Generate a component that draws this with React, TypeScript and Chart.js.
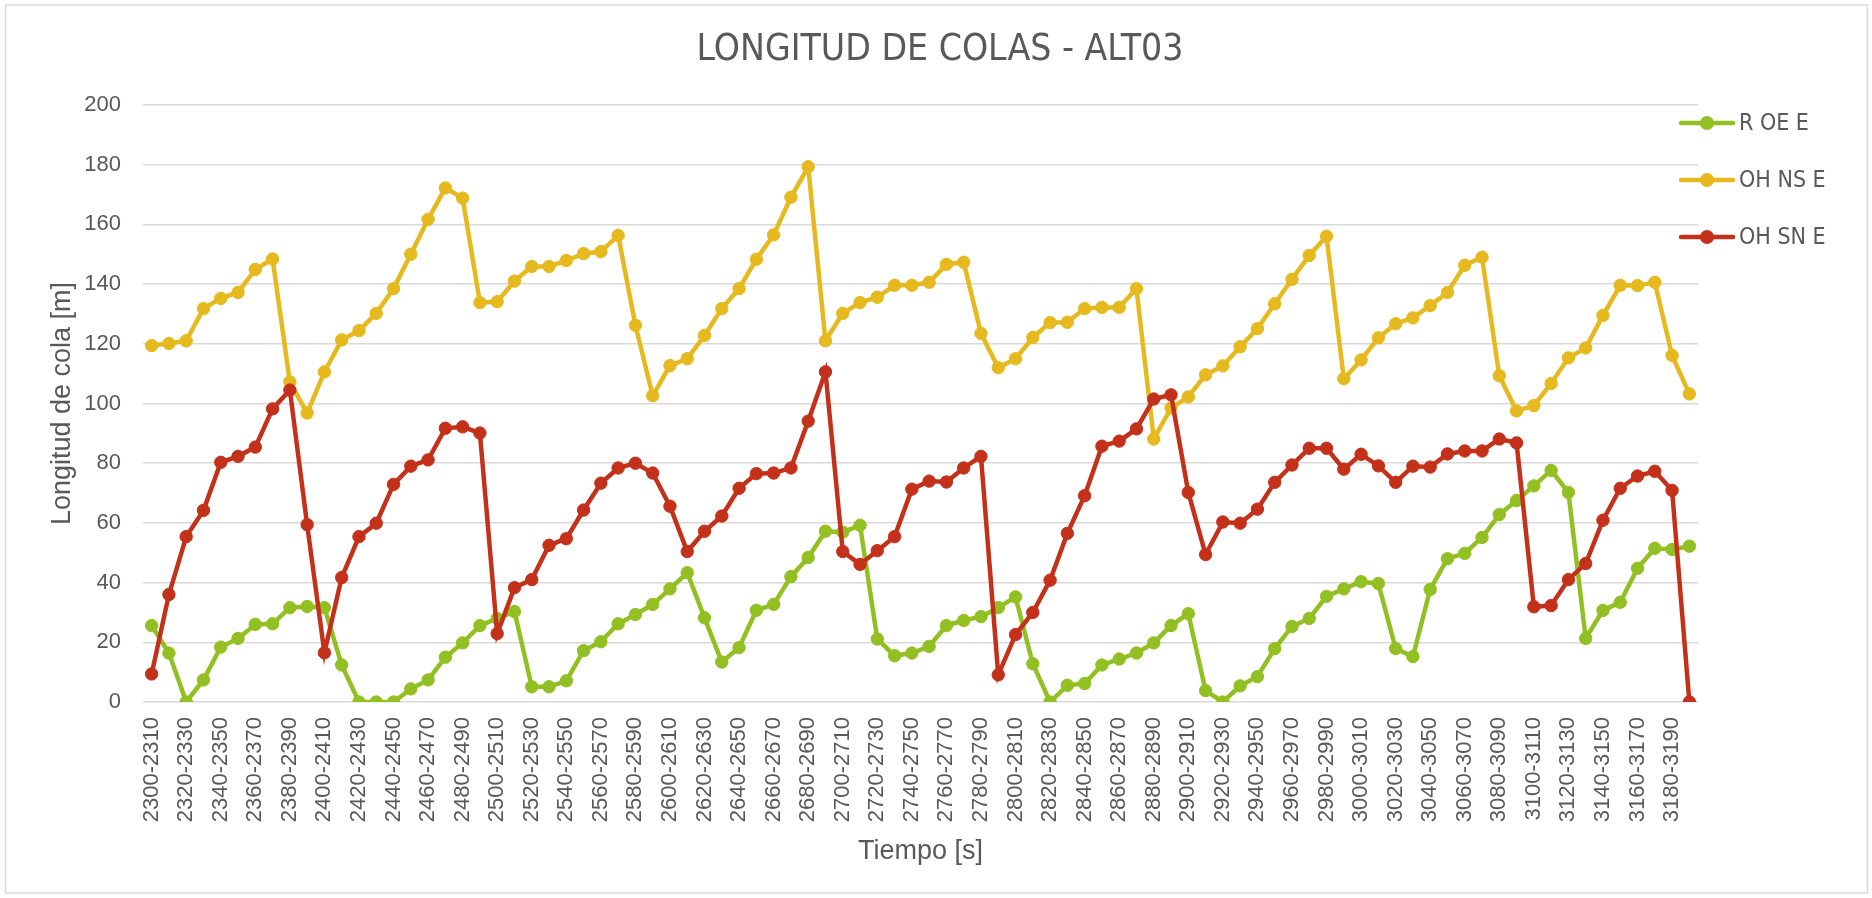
import { useEffect, useRef } from 'react';
import { Chart, registerables } from 'chart.js';

Chart.register(...registerables);

const categories = [
  '2300-2310', '2310-2320', '2320-2330', '2330-2340', '2340-2350', '2350-2360', '2360-2370', '2370-2380', '2380-2390', '2390-2400',
  '2400-2410', '2410-2420', '2420-2430', '2430-2440', '2440-2450', '2450-2460', '2460-2470', '2470-2480', '2480-2490', '2490-2500',
  '2500-2510', '2510-2520', '2520-2530', '2530-2540', '2540-2550', '2550-2560', '2560-2570', '2570-2580', '2580-2590', '2590-2600',
  '2600-2610', '2610-2620', '2620-2630', '2630-2640', '2640-2650', '2650-2660', '2660-2670', '2670-2680', '2680-2690', '2690-2700',
  '2700-2710', '2710-2720', '2720-2730', '2730-2740', '2740-2750', '2750-2760', '2760-2770', '2770-2780', '2780-2790', '2790-2800',
  '2800-2810', '2810-2820', '2820-2830', '2830-2840', '2840-2850', '2850-2860', '2860-2870', '2870-2880', '2880-2890', '2890-2900',
  '2900-2910', '2910-2920', '2920-2930', '2930-2940', '2940-2950', '2950-2960', '2960-2970', '2970-2980', '2980-2990', '2990-3000',
  '3000-3010', '3010-3020', '3020-3030', '3030-3040', '3040-3050', '3050-3060', '3060-3070', '3070-3080', '3080-3090', '3090-3100',
  '3100-3110', '3110-3120', '3120-3130', '3130-3140', '3140-3150', '3150-3160', '3160-3170', '3170-3180', '3180-3190', '3190-3200',
];

const rOeE = [
  25.6, 16.4, 0, 7.4, 18.4, 21.3, 26.0, 26.2, 31.6, 32.0,
  31.6, 12.4, 0, 0, 0, 4.4, 7.4, 15.0, 19.8, 25.6,
  28.0, 30.3, 5.1, 5.1, 7.1, 17.2, 20.2, 26.2, 29.3, 32.7,
  37.9, 43.3, 28.2, 13.4, 18.2, 30.7, 32.7, 42.0, 48.4, 57.2,
  56.9, 59.2, 21.1, 15.5, 16.4, 18.6, 25.6, 27.3, 28.6, 31.6,
  35.2, 12.8, 0, 5.6, 6.2, 12.4, 14.4, 16.4, 19.8, 25.6,
  29.6, 3.8, 0, 5.4, 8.5, 17.9, 25.3, 28.0, 35.4, 37.9,
  40.3, 39.7, 17.9, 15.2, 37.7, 48.0, 49.8, 55.1, 62.8, 67.5,
  72.4, 77.6, 70.2, 21.3, 30.7, 33.4, 44.8, 51.5, 51.1, 52.2,
];

const ohNsE = [
  119.4, 120.1, 121.0, 131.8, 135.2, 137.2, 144.9, 148.4, 107.2, 96.8,
  110.6, 121.3, 124.4, 130.2, 138.5, 150.0, 161.7, 172.2, 168.8, 133.8,
  134.1, 141.0, 145.9, 145.9, 147.9, 150.2, 150.9, 156.3, 126.2, 102.6,
  112.7, 115.0, 122.8, 131.8, 138.5, 148.3, 156.5, 169.1, 179.3, 121.0,
  130.2, 133.8, 135.6, 139.6, 139.6, 140.6, 146.6, 147.3, 123.5, 112.0,
  115.0, 122.1, 127.1, 127.2, 131.8, 132.2, 132.2, 138.5, 88.1, 98.5,
  102.2, 109.6, 112.6, 119.0, 125.1, 133.4, 141.6, 149.6, 156.0, 108.3,
  114.6, 122.0, 126.7, 128.7, 132.8, 137.2, 146.3, 149.0, 109.3, 97.5,
  99.3, 106.7, 115.3, 118.6, 129.5, 139.6, 139.5, 140.6, 116.1, 103.2,
];

const ohSnE = [
  9.4, 36.0, 55.4, 64.2, 80.3, 82.3, 85.4, 98.2, 104.5, 59.4,
  16.5, 41.7, 55.4, 59.9, 72.9, 79.0, 81.1, 91.7, 92.2, 90.1,
  22.9, 38.3, 41.0, 52.5, 54.7, 64.3, 73.3, 78.4, 80.0, 76.7,
  65.6, 50.4, 57.2, 62.3, 71.6, 76.5, 76.7, 78.4, 94.1, 110.6,
  50.4, 46.1, 50.7, 55.4, 71.3, 74.0, 73.7, 78.4, 82.3, 9.1,
  22.6, 30.0, 40.8, 56.5, 69.1, 85.7, 87.4, 91.5, 101.5, 102.9,
  70.2, 49.4, 60.3, 59.9, 64.6, 73.6, 79.4, 85.0, 85.0, 78.0,
  83.0, 79.1, 73.6, 79.0, 78.7, 83.1, 84.1, 84.1, 88.1, 86.8,
  31.9, 32.3, 41.0, 46.4, 60.9, 71.6, 75.7, 77.3, 70.9, 0,
];

const seriesNames = ['R OE E', 'OH NS E', 'OH SN E'];
const seriesColors = ['#92C022', '#E6B91E', '#C4311B'];

const TEXT = '#595959';
const GRID = '#D9D9D9';
const NARROW = '"DejaVu Sans Condensed", "Liberation Sans Narrow", "Liberation Sans", sans-serif';
const SANS = '"Liberation Sans", sans-serif';

const bgPlugin = {
  id: 'bgBorder',
  beforeDraw(chart: any) {
    const { ctx, width, height } = chart;
    ctx.save();
    ctx.fillStyle = '#ffffff';
    ctx.fillRect(0, 0, width, height);
    ctx.strokeStyle = GRID;
    ctx.lineWidth = 1.5;
    ctx.strokeRect(5.5, 5, width - 10, height - 10);
    ctx.restore();
  },
};

const legendPlugin = {
  id: 'lineLegend',
  afterDraw(chart: any) {
    const { ctx, chartArea } = chart;
    const x0 = chartArea.right - 19;
    chart.data.datasets.forEach((ds: any, i: number) => {
      const y = chartArea.top + 18 + i * 57;
      ctx.save();
      ctx.strokeStyle = ds.borderColor;
      ctx.lineWidth = 4.5;
      ctx.lineCap = 'round';
      ctx.beginPath();
      ctx.moveTo(x0 + 2, y);
      ctx.lineTo(x0 + 54, y);
      ctx.stroke();
      ctx.fillStyle = ds.borderColor;
      ctx.beginPath();
      ctx.arc(x0 + 28, y, 7, 0, Math.PI * 2);
      ctx.fill();
      ctx.fillStyle = TEXT;
      ctx.font = '23px ' + NARROW;
      ctx.textBaseline = 'middle';
      ctx.textAlign = 'left';
      ctx.fillText(ds.label, x0 + 60, y + 1);
      ctx.restore();
    });
  },
};

export default function App() {
  const ref = useRef<HTMLCanvasElement | null>(null);

  useEffect(() => {
    document.body.style.margin = '0';
    const canvas = ref.current;
    if (!canvas) return;
    const seriesData = [rOeE, ohNsE, ohSnE];
    const datasets = seriesData.map((d, i) => ({
      label: seriesNames[i],
      data: d,
      borderColor: seriesColors[i],
      backgroundColor: seriesColors[i],
      pointBackgroundColor: seriesColors[i],
      pointBorderColor: seriesColors[i],
      pointBorderWidth: 1,
      pointRadius: 6.2,
      borderWidth: 4.5,
      tension: 0,
      fill: false,
      order: 2 - i,
    }));

    const chart = new Chart(canvas, {
      type: 'line',
      data: { labels: categories, datasets },
      plugins: [bgPlugin, legendPlugin],
      options: {
        responsive: false,
        animation: false,
        events: [],
        layout: { padding: { left: 8, right: 0, top: 0, bottom: 0 } },
        plugins: {
          legend: { display: false },
          tooltip: { enabled: false },
          title: {
            display: true,
            text: 'LONGITUD DE COLAS - ALT03',
            color: TEXT,
            font: { family: NARROW, size: 37, weight: 'normal' },
            padding: { top: 28, bottom: 32.6 },
          },
        },
        scales: {
          x: {
            type: 'category',
            offset: true,
            grid: { display: false, drawTicks: false },
            border: { display: false },
            ticks: {
              autoSkip: false,
              maxRotation: 90,
              minRotation: 90,
              padding: 15,
              color: TEXT,
              font: { family: SANS, size: 22 },
              callback: (_v: any, i: number) => (i % 2 === 0 ? categories[i] : ''),
            },
            title: {
              display: true,
              text: 'Tiempo [s]',
              color: TEXT,
              font: { family: SANS, size: 27 },
              padding: { top: 0, bottom: 30 },
            },
            afterFit: (s: any) => {
              s.height = 196;
            },
          },
          y: {
            type: 'linear',
            position: 'left',
            min: 0,
            max: 200,
            grid: { color: GRID, lineWidth: 1.5, drawTicks: false },
            border: { display: false },
            ticks: {
              stepSize: 20,
              padding: 22,
              color: TEXT,
              font: { family: SANS, size: 22 },
            },
            title: {
              display: true,
              text: 'Longitud de cola [m]',
              color: TEXT,
              font: { family: SANS, size: 27 },
              padding: { top: 38, bottom: 0 },
            },
            afterFit: (s: any) => {
              s.width = 135;
            },
          },
          yRight: {
            type: 'linear',
            position: 'right',
            display: true,
            grid: { display: false, drawTicks: false },
            border: { display: false },
            ticks: { display: false },
            afterFit: (s: any) => {
              s.width = 174;
            },
          },
        },
      } as any,
    });
    return () => chart.destroy();
  }, []);

  return (
    <div style={{ width: 1872, height: 898, position: 'relative' }}>
      <canvas ref={ref} width={1872} height={898} style={{ display: 'block', width: 1872, height: 898 }} />
    </div>
  );
}
